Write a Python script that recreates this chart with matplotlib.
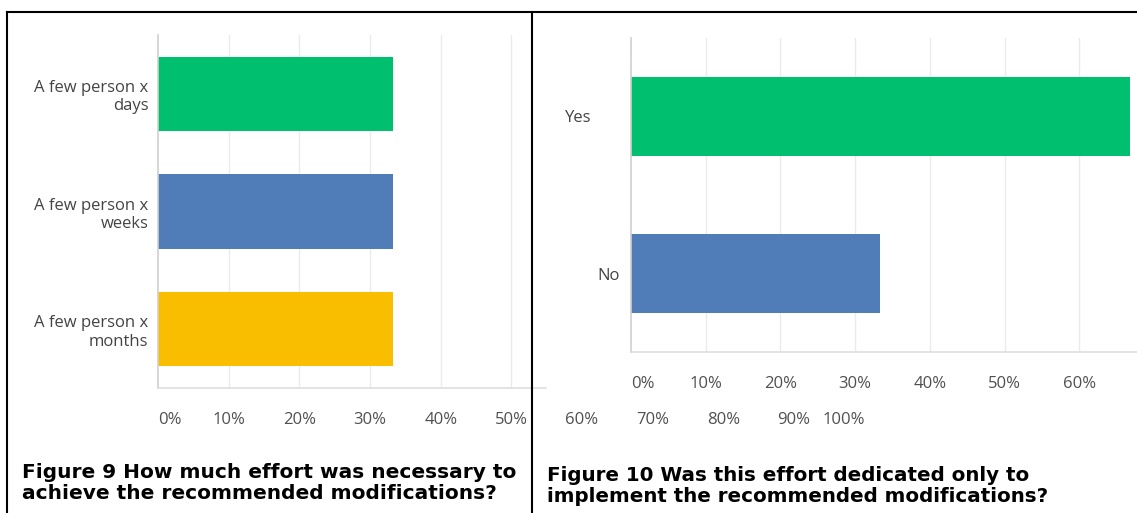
import matplotlib
matplotlib.use("Agg")
import matplotlib.pyplot as plt
from matplotlib.lines import Line2D
from matplotlib.transforms import ScaledTranslation, blended_transform_factory

# ---- data ----
effort_categories = ["A few person x\ndays", "A few person x\nweeks", "A few person x\nmonths"]
effort_values = [33.3, 33.3, 33.3]
effort_colors = ["#00BF6F", "#507CB7", "#F9BE00"]

dedicated_categories = ["Yes", "No"]
dedicated_values = [66.7, 33.3]
dedicated_colors = ["#00BF6F", "#507CB7"]

tick_values = [0, 10, 20, 30, 40, 50, 60, 70, 80, 90, 100]
tick_labels = ["0%", "10%", "20%", "30%", "40%", "50%", "60%", "70%", "80%", "90%", "100%"]

caption9 = "Figure 9 How much effort was necessary to\nachieve the recommended modifications?"
caption10 = "Figure 10 Was this effort dedicated only to\nimplement the recommended modifications?"

# ---- layout ----
W, H = 1137, 513
fig = plt.figure(figsize=(W / 100, H / 100), dpi=100)
fig.patch.set_facecolor("white")

LABEL_FONT = "Open Sans"
LABEL_COLOR = "#444444"
TICK_COLOR = "#505050"
GRID_COLOR = "#ebebeb"
TICK_PAD = 17


def px_axes(left, right, top, bottom):
    return fig.add_axes([left / W, 1 - bottom / H, (right - left) / W, (bottom - top) / H])


def style_axes(ax, xmax, grid_ticks):
    ax.set_xlim(0, xmax)
    for s in ["top", "right"]:
        ax.spines[s].set_visible(False)
    ax.spines["left"].set_color("#cfcfcf")
    ax.spines["left"].set_linewidth(1.2)
    ax.spines["bottom"].set_color("#dedede")
    ax.spines["bottom"].set_linewidth(1.2)
    for g in grid_ticks:
        ax.axvline(g, color=GRID_COLOR, lw=1.0, zorder=0)
    ax.tick_params(axis="both", length=0)
    ax.tick_params(axis="x", pad=TICK_PAD, labelsize=12, labelcolor=TICK_COLOR)
    ax.tick_params(axis="y", labelsize=12, labelcolor=LABEL_COLOR)
    for lab in ax.get_xticklabels() + ax.get_yticklabels():
        lab.set_fontfamily(LABEL_FONT)


# Left chart (Figure 9)
ax1 = px_axes(158, 546, 35, 388)
ax1.barh(range(len(effort_categories)), effort_values, height=0.63,
         color=effort_colors, zorder=2)
ax1.set_ylim(len(effort_categories) - 0.5, -0.5)
ax1.set_yticks(range(len(effort_categories)))
ax1.set_yticklabels(effort_categories)
xmax1 = 54.9
vis1 = [v for v in tick_values if v <= xmax1]
ax1.set_xticks(vis1)
ax1.set_xticklabels(tick_labels[:len(vis1)])
style_axes(ax1, xmax1, [v for v in vis1 if v > 0])
ax1.tick_params(axis="y", pad=7)
ax1.get_xticklabels()[0].set_ha("left")

# overflowing tick labels of the left chart (wrapped into right panel area)
tr1 = blended_transform_factory(ax1.transData, ax1.transAxes)
for v, lab in zip(tick_values[len(vis1):], tick_labels[len(vis1):]):
    ax1.text(v, 0, lab, transform=tr1 + ScaledTranslation(0, -TICK_PAD / 72, fig.dpi_scale_trans),
             ha="right" if v == 100 else "center", va="top", fontsize=12,
             color=TICK_COLOR, family=LABEL_FONT, clip_on=False)

# Right chart (Figure 10)
ax2 = px_axes(631, 1137, 38, 352)
ax2.barh(range(len(dedicated_categories)), dedicated_values, height=0.5,
         color=dedicated_colors, zorder=2)
ax2.set_ylim(len(dedicated_categories) - 0.5, -0.5)
ax2.set_yticks(range(len(dedicated_categories)))
ax2.set_yticklabels(dedicated_categories)
xmax2 = 67.7
vis2 = [v for v in tick_values if v <= xmax2]
ax2.set_xticks(vis2)
ax2.set_xticklabels(tick_labels[:len(vis2)])
style_axes(ax2, xmax2, [v for v in vis2 if v > 0])
ax2.tick_params(axis="y", pad=8)
ax2.get_xticklabels()[0].set_ha("left")
yes_lab = ax2.get_yticklabels()[0]
yes_lab.set_transform(yes_lab.get_transform() + ScaledTranslation(-0.28, 0, fig.dpi_scale_trans))

# Borders
def fig_line(x0, y0, x1, y1):
    fig.add_artist(Line2D([x0 / W, x1 / W], [1 - y0 / H, 1 - y1 / H], color="black",
                          lw=1.5, transform=fig.transFigure, zorder=10))

fig_line(7, 12, W, 12)
fig_line(7, 12, 7, H)
fig_line(532, 12, 532, H)

# Captions
fig.text(22 / W, 1 - 463 / H, caption9, ha="left", va="top", fontsize=14.5,
         fontweight="bold", family="DejaVu Sans", linespacing=1.15, color="black")
fig.text(547 / W, 1 - 466 / H, caption10, ha="left", va="top", fontsize=14.3,
         fontweight="bold", family="DejaVu Sans", linespacing=1.15, color="black")

fig.savefig("out.png", dpi=100, facecolor="white")
